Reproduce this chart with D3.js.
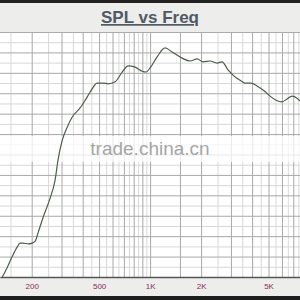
<!DOCTYPE html>
<html><head><meta charset="utf-8">
<script src="https://cdn.jsdelivr.net/npm/d3@7"></script>
<style>html,body{margin:0;padding:0;background:#fff;}svg{display:block;}</style>
</head><body>
<svg id="c" width="300" height="300"></svg>
<script>
const title = "SPL vs Freq";
const freqs = [134,143,153,164,171,178,191,201,210,218,234,257,275,286,303,324,347,386,414,443,487,528,565,622,684,742,816,897,947,1000,1100,1226,1348,1545,1722,1894,2054,2259,2485,2660,2885,3131,3396,3636,3944,4277,4706,5105,5539,6009,6432,6883,7367,7670];
const spl = [40.0,42.2,44.9,47.3,48.3,48.3,48.1,48.3,48.8,50.8,54.7,59.3,63.8,68.6,73.5,76.7,79.2,81.4,83.3,85.3,87.5,87.5,87.3,87.8,90.2,91.7,91.4,90.4,90.2,91.2,93.9,96.1,95.1,93.6,92.9,93.4,92.7,92.9,92.4,92.7,90.7,89.2,88.2,87.5,87.5,86.8,85.6,84.3,83.3,82.9,83.6,84.3,83.8,83.1];
const tickValues = [200,500,1000,2000,5000];
const tickLabels = ["200","500","1K","2K","5K"];
const majorGrid = [200,300,400,500,600,700,800,900,1000,1500,2000,3000,4000,5000,6000,7000];
const minorGrid = [150,250,350,450,550,650,750,850,950,2500,3500,4500,5500,6500,7500];
const yDomain = [40,100];
const yMajor = d3.range(40,101,5);
const yMinor = d3.range(42.5,100,5);

const svg = d3.select("#c");
const plotTop = 32, plotBottom = 277;
const x = d3.scaleLog().domain([130,7670]).range([0,300]);
const y = d3.scaleLinear().domain(yDomain).range([plotBottom, plotTop]);

// backgrounds
svg.append("rect").attr("x",0).attr("y",0).attr("width",300).attr("height",300).attr("fill","#fff");
svg.append("rect").attr("x",0).attr("y",0).attr("width",300).attr("height",plotTop).attr("fill","#ededeb");
svg.append("rect").attr("x",0).attr("y",0).attr("width",300).attr("height",3).attr("fill","#222");
svg.append("rect").attr("x",0).attr("y",plotBottom).attr("width",300).attr("height",19).attr("fill","#ededeb");
svg.append("rect").attr("x",0).attr("y",296).attr("width",300).attr("height",4).attr("fill","#1e1e1e");

const g = svg.append("g");
g.append("g").attr("transform",`translate(0,${plotBottom})`)
 .call(d3.axisBottom(x).tickValues(minorGrid).tickSize(-(plotBottom-plotTop)).tickFormat(""))
 .call(s=>s.select(".domain").remove())
 .call(s=>s.selectAll("line").attr("stroke","#d8d8d8").attr("stroke-width",1));
g.append("g")
 .call(d3.axisLeft(y).tickValues(yMinor).tickSize(-300).tickFormat(""))
 .call(s=>s.select(".domain").remove())
 .call(s=>s.selectAll("line").attr("stroke","#d8d8d8").attr("stroke-width",1));
g.append("g")
 .call(d3.axisLeft(y).tickValues(yMajor).tickSize(-300).tickFormat(""))
 .call(s=>s.select(".domain").remove())
 .call(s=>s.selectAll("line").attr("stroke","#a8a8a8").attr("stroke-width",1));
g.append("g").attr("transform",`translate(0,${plotBottom})`)
 .call(d3.axisBottom(x).tickValues(majorGrid).tickSize(-(plotBottom-plotTop)).tickFormat(""))
 .call(s=>s.select(".domain").remove())
 .call(s=>s.selectAll("line").attr("stroke","#a8a8a8").attr("stroke-width",1));

svg.append("line").attr("x1",0).attr("x2",300).attr("y1",plotTop+0.5).attr("y2",plotTop+0.5).attr("stroke","#aaa");

// watermark band
svg.append("rect").attr("x",0).attr("y",136).attr("width",300).attr("height",26).attr("fill","#fff").attr("opacity",0.75);
svg.append("text").attr("x",150).attr("y",155).attr("text-anchor","middle")
 .attr("font-family","Liberation Sans, Arial, sans-serif").attr("font-size",19).attr("fill","#a5a5a5")
 .text("trade.china.cn");

// curve
const line = d3.line().x((d,i)=>x(freqs[i])).y(d=>y(d)).curve(d3.curveMonotoneX);
svg.append("path").datum(spl).attr("d",line).attr("fill","none").attr("stroke","#4b5e4b").attr("stroke-width",1.2);

// bottom axis
const ax = svg.append("g").attr("transform",`translate(0,${plotBottom})`)
 .call(d3.axisBottom(x).tickValues(tickValues).tickSize(0).tickPadding(6).tickFormat((d,i)=>tickLabels[i]));
ax.select(".domain").attr("stroke","#555").attr("stroke-width",1.5);
ax.selectAll("text").attr("font-family","Liberation Sans, Arial, sans-serif").attr("font-size",8).attr("fill","#8b2a55");

// title
svg.append("text").attr("x",150).attr("y",23).attr("text-anchor","middle")
 .attr("font-family","Liberation Sans, Arial, sans-serif").attr("font-weight","bold").attr("font-size",17)
 .attr("fill","#4f5a63").attr("text-decoration","underline").text(title);
</script>
</body></html>
